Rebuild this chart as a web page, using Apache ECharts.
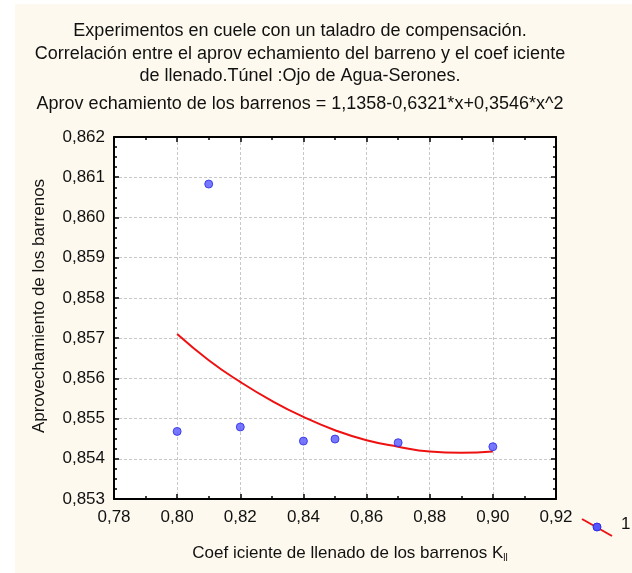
<!DOCTYPE html>
<html>
<head>
<meta charset="utf-8">
<script src="https://cdn.jsdelivr.net/npm/echarts@6/dist/echarts.min.js"></script>
<style>
html,body{margin:0;padding:0;background:#ffffff;width:632px;height:573px;overflow:hidden;}
#c{position:absolute;left:15px;top:4px;width:617px;height:569px;background:#fdf9ee;}
</style>
</head>
<body>
<div id="c"></div>
<script>
// Observed data points
const pointsX = [0.80, 0.81, 0.82, 0.84, 0.85, 0.87, 0.90];
const pointsY = [0.85468, 0.86083, 0.85479, 0.85444, 0.85449, 0.85440, 0.85430];
// Fitted curve
const curveX = [0.80, 0.81, 0.82, 0.83, 0.84, 0.85, 0.86, 0.87, 0.88, 0.89, 0.90];
const curveY = [0.85710, 0.85645, 0.85591, 0.85544, 0.85504, 0.85471, 0.85446, 0.85430, 0.85418, 0.85415, 0.85418];
// Axis ticks
const xTicks = [0.78, 0.80, 0.82, 0.84, 0.86, 0.88, 0.90, 0.92];
const yTicks = [0.853, 0.854, 0.855, 0.856, 0.857, 0.858, 0.859, 0.860, 0.861, 0.862];
const titleLines = [
  'Experimentos en cuele con un taladro de compensación.',
  'Correlación entre el aprov echamiento del barreno y el coef iciente',
  'de llenado.Túnel :Ojo de Agua-Serones.'
];
const equationText = 'Aprov echamiento de los barrenos = 1,1358-0,6321*x+0,3546*x^2';
const yName = 'Aprovechamiento de los barrenos';
const xName = 'Coef iciente de llenado de los barrenos K{sub|ll}';
const legendName = '1';

const FONT = 'Liberation Sans, Arial, sans-serif';
const chart = echarts.init(document.getElementById('c'));
const fmt = (d) => (v) => v.toFixed(d).replace('.', ',');

const frameAxis = {
  axisLine: {show: true, lineStyle: {color: '#000', width: 2}},
  axisTick: {show: true, inside: true, length: 5, lineStyle: {color: '#000', width: 1.5}},
  minorTick: {show: true, length: 3, lineStyle: {color: '#000', width: 1.5}},
  splitLine: {show: false}
};

chart.setOption({
  animation: false,
  title: [
    {text: titleLines.join('\n'), left: 280, top: 11, textAlign: 'center',
     textStyle: {fontFamily: FONT, fontSize: 18, fontWeight: 'normal', color: '#111', lineHeight: 22.5}},
    {text: equationText, left: 280, top: 86, textAlign: 'center',
     textStyle: {fontFamily: FONT, fontSize: 18, fontWeight: 'normal', color: '#111'}}
  ],
  grid: {left: 99, top: 133, right: 76, bottom: 74, show: true, backgroundColor: '#ffffff', borderWidth: 0},
  xAxis: [
    Object.assign({}, frameAxis, {
      type: 'value', min: xTicks[0], max: xTicks[xTicks.length - 1], interval: 0.02,
      position: 'bottom',
      minorTick: Object.assign({}, frameAxis.minorTick, {splitNumber: 2}),
      axisLabel: {formatter: fmt(2), fontFamily: FONT, fontSize: 17, color: '#111', margin: 10},
      splitLine: {show: true, lineStyle: {color: '#c8c8c8', type: [3, 2], width: 1}},
      name: xName, nameLocation: 'middle', nameGap: 44,
      nameTextStyle: {fontFamily: FONT, fontSize: 17, color: '#111', padding: [0, 0, 0, 30],
        rich: {sub: {fontFamily: FONT, fontSize: 10, color: '#111', padding: [10, 0, 0, 0]}}}
    }),
    Object.assign({}, frameAxis, {
      type: 'value', min: xTicks[0], max: xTicks[xTicks.length - 1], interval: 0.02,
      position: 'top',
      minorTick: Object.assign({}, frameAxis.minorTick, {splitNumber: 2}),
      axisLabel: {show: false}
    })
  ],
  yAxis: [
    Object.assign({}, frameAxis, {
      type: 'value', min: yTicks[0], max: yTicks[yTicks.length - 1], interval: 0.001,
      position: 'left',
      minorTick: Object.assign({}, frameAxis.minorTick, {splitNumber: 4}),
      axisLabel: {formatter: fmt(3), fontFamily: FONT, fontSize: 17, color: '#111', margin: 9},
      splitLine: {show: true, lineStyle: {color: '#c8c8c8', type: [3, 2], width: 1}},
      name: yName, nameLocation: 'middle', nameGap: 66,
      nameTextStyle: {fontFamily: FONT, fontSize: 17, color: '#111', padding: [0, 0, 0, 24]}
    }),
    Object.assign({}, frameAxis, {
      type: 'value', min: yTicks[0], max: yTicks[yTicks.length - 1], interval: 0.001,
      position: 'right',
      minorTick: Object.assign({}, frameAxis.minorTick, {splitNumber: 4}),
      axisLabel: {show: false}
    })
  ],
  series: [
    {
      name: 'fit', type: 'line', smooth: true, symbol: 'none',
      lineStyle: {color: '#ee1111', width: 2},
      data: curveX.map((x, i) => [x, curveY[i]]), z: 3
    },
    {
      name: legendName, type: 'scatter', symbol: 'circle', symbolSize: 8,
      itemStyle: {color: '#5555ff', borderColor: '#2a2ae6', borderWidth: 1},
      data: pointsX.map((x, i) => [x, pointsY[i]]), z: 4
    }
  ],
  graphic: [
    {type: 'line', shape: {x1: 567, y1: 515, x2: 597, y2: 532}, style: {stroke: '#ee1111', lineWidth: 2}},
    {type: 'circle', shape: {cx: 582, cy: 523, r: 4}, style: {fill: '#5555ff', stroke: '#2a2ae6', lineWidth: 1}},
    {type: 'text', left: 606, top: 512, style: {text: legendName, font: '17px ' + FONT, fill: '#111'}}
  ]
});
</script>
</body>
</html>
